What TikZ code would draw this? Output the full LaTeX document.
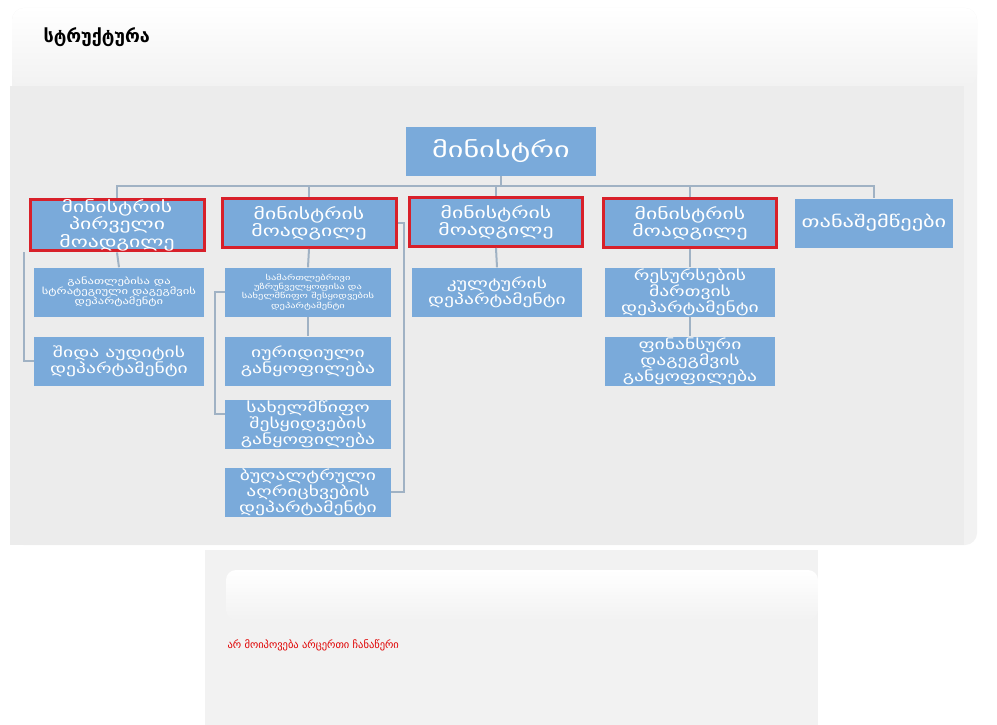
\documentclass[tikz,border=0pt]{standalone}
\usepackage{fontspec}
\newfontfamily\geo{DejaVu Sans}
\newfontfamily\geowide[FakeStretch=1.4]{DejaVu Sans}
\definecolor{boxblue}{RGB}{122,170,218}
\definecolor{framered}{RGB}{216,32,42}
\definecolor{linkgray}{RGB}{160,178,196}
\definecolor{panelgray}{RGB}{242,242,242}
\definecolor{chartgray}{RGB}{236,236,236}
\definecolor{notered}{RGB}{224,0,0}
\tikzset{
  unit/.style={fill=boxblue, text=white, align=center, inner sep=0pt,
    minimum width=170pt, minimum height=49pt, font=\geowide\fontsize{14}{16}\selectfont},
  tallunit/.style={unit, font=\geowide\fontsize{14}{14.5}\selectfont},
  smallunit/.style={unit, font=\geowide\fontsize{9}{10}\selectfont},
  deputy/.style={unit, draw=framered, line width=3pt, font=\geowide\fontsize{15.5}{17}\selectfont},
  link/.style={draw=linkgray, line width=2pt},
}

\begin{document}
\begin{tikzpicture}[x=1pt,y=-1pt]
  \useasboundingbox (0,0) rectangle (997,725);
  \fill[white] (0,0) rectangle (997,725);
  % panels
  \fill[panelgray, rounded corners=12pt] (12,8) rectangle (977,545);
  \shade[top color=white, bottom color=panelgray, rounded corners=12pt] (12,8) rectangle (977,86);
  \fill[chartgray] (10,86) rectangle (964,545);
  \node[anchor=west, font=\geo\bfseries\fontsize{18}{20}\selectfont] (title) at (40,37) {სტრუქტურა};

  % chart
  \node[unit, minimum width=190pt, font=\geowide\fontsize{21.5}{23}\selectfont] (mins) at (501,151) {მინისტრი};
  \node[deputy, minimum width=174pt, font=\geowide\fontsize{15.5}{16}\selectfont] (dep1) at (117,225) {მინისტრის\\პირველი\\მოადგილე};
  \node[deputy, minimum width=174pt] (dep2) at (309,223) {მინისტრის\\მოადგილე};
  \node[deputy, minimum width=173pt] (dep3) at (496,222) {მინისტრის\\მოადგილე};
  \node[deputy, minimum width=173pt] (dep4) at (690,223) {მინისტრის\\მოადგილე};
  \node[unit, minimum width=158pt, font=\geowide\fontsize{16}{18}\selectfont] (assist) at (874,223) {თანაშემწეები};

  \node[smallunit] (edu) at (119,292) {განათლებისა და\\სტრატეგიული დაგეგმვის\\დეპარტამენტი};
  \node[unit] (audit) at (119,361) {შიდა აუდიტის\\დეპარტამენტი};

  \node[smallunit, minimum width=166pt, font=\geowide\fontsize{7.5}{9.3}\selectfont] (legal) at (308,292) {სამართლებრივი\\უზრუნველყოფისა და\\სახელმწიფო შესყიდვების\\დეპარტამენტი};
  \node[unit, minimum width=166pt] (jur) at (308,361) {იურიდიული\\განყოფილება};
  \node[tallunit, minimum width=166pt] (procure) at (308,424) {სახელმწიფო\\შესყიდვების\\განყოფილება};
  \node[tallunit, minimum width=166pt] (acct) at (308,492) {ბუღალტრული\\აღრიცხვების\\დეპარტამენტი};

  \node[unit] (culture) at (497,292) {კულტურის\\დეპარტამენტი};

  \node[tallunit] (res) at (690,292) {რესურსების\\მართვის\\დეპარტამენტი};
  \node[tallunit] (fin) at (690,361) {ფინანსური\\დაგეგმვის\\განყოფილება};

  % connectors
  \coordinate (bus) at (501,186);
  \draw[link] (mins.south) -- (bus);
  \foreach \n in {dep1,dep2,dep3,dep4,assist}
    \draw[link] (bus) -| (\n.north);
  \draw[link] (dep1.south) -- (edu.north);
  \draw[link] (audit.west) -| ([xshift=-5pt]dep1.south west);
  \draw[link] (dep2.south) -- (legal.north);
  \draw[link] (legal.south) -- (jur.north);
  \draw[link] (legal.west) -- ++(-10,0) |- ([yshift=10pt]procure.west);
  \draw[link] (dep2.east) -- ++(6,0) |- (acct.east);
  \draw[link] (dep3.south) -- (culture.north);
  \draw[link] (dep4.south) -- (res.north);
  \draw[link] (res.south) -- (fin.north);

  % lower panel
  \fill[panelgray] (205,550) rectangle (818,725);
  \shade[top color=white, bottom color=panelgray, rounded corners=10pt] (226,570) rectangle (818,620);
  \node[anchor=west, text=notered, font=\geo\fontsize{10.5}{12}\selectfont] (note) at (224,645) {არ მოიპოვება არცერთი ჩანაწერი};
\end{tikzpicture}
\end{document}
